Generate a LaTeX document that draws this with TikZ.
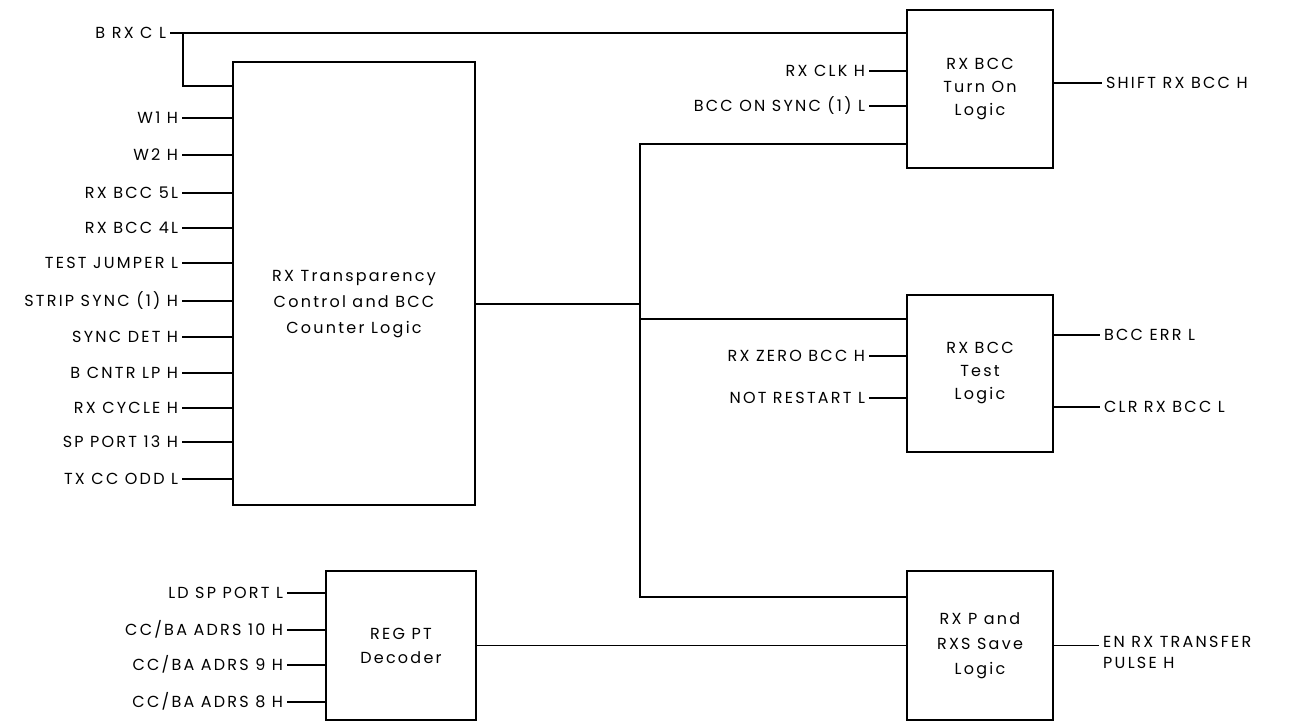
\documentclass[tikz,border=0pt]{standalone}
\usepackage{fontspec}
\setmainfont{Poppins}[LetterSpace=14]
\begin{document}
\begin{tikzpicture}[x=1pt,y=-1pt,
  blk/.style={draw, line width=2.6pt, inner sep=0pt, outer sep=0pt, align=center,
    font=\fontsize{16}{23}\selectfont},
  lbl/.style={inner sep=0pt, inner xsep=4pt, outer sep=0pt,
    font=\fontsize{16}{22}\selectfont, text height=11pt, text depth=0pt},
  inp/.style={lbl, anchor=east},
  outp/.style={lbl, anchor=west},
  wire/.style={line width=1.6pt}]
\useasboundingbox (0,0) rectangle (1296,721);
% boxes
\node[blk, minimum width=242pt, minimum height=443pt] (main) at (354,283.5) {};
\node[inner sep=0pt, align=center, font=\fontsize{16}{26}\selectfont] (mainT) at (354,304)
  {RX Transparency\\Control and BCC\\Counter Logic};
\node[blk, minimum width=146pt, minimum height=158pt] (on) at (980,89) {RX BCC\\Turn On\\Logic};
\node[blk, minimum width=146pt, minimum height=157pt] (test) at (980,373.5) {RX BCC\\Test\\Logic};
\node[blk, minimum width=146pt, minimum height=149pt, font=\fontsize{16}{25}\selectfont] (save) at (980,645.5) {RX P and\\RXS Save\\Logic};
\node[blk, minimum width=150pt, minimum height=149pt, font=\fontsize{16}{24}\selectfont] (reg) at (401,645.5) {REG PT\\Decoder};
% main inputs
\foreach \y/\t/\n in {118/W1 H/m1, 155/W2 H/m2, 193/RX BCC 5L/m3, 228/RX BCC 4L/m4,
  263/TEST JUMPER L/m5, 301/STRIP SYNC (1) H/m6, 337/SYNC DET H/m7, 373/B CNTR LP H/m8,
  408/RX CYCLE H/m9, 442/SP PORT 13 H/m10, 479/TX CC ODD L/m11}{
  \node[inp] (\n) at (182,\y) {\t};
  \draw[wire] (\n.east) -- (\n.east -| main.west);
}
% B RX C L
\node[inp] (brx) at (170,33) {B RX C L};
\draw[wire] (brx.east) -- (brx.east -| on.west);
\coordinate (brA) at (183,33);
\coordinate (brB) at (183,86);
\draw[wire] (brA) -- (brB) -- (brB -| main.west);
% turn on inputs
\node[inp] (clk) at (869,71) {RX CLK H};
\draw[wire] (clk.east) -- (clk.east -| on.west);
\node[inp] (bcon) at (869,106) {BCC ON SYNC (1) L};
\draw[wire] (bcon.east) -- (bcon.east -| on.west);
% junction
\coordinate (J) at (640,304);
\coordinate (Jt) at (640,144);
\coordinate (Jm) at (640,319);
\coordinate (Jb) at (640,597);
\draw[wire] (main.east |- J) -- (J);
\draw[wire] (Jt -| on.west) -- (Jt) -- (Jb) -- (Jb -| save.west);
\draw[wire] (Jm) -- (Jm -| test.west);
% test inputs
\node[inp] (zero) at (869,356) {RX ZERO BCC H};
\draw[wire] (zero.east) -- (zero.east -| test.west);
\node[inp] (nrst) at (869,398) {NOT RESTART L};
\draw[wire] (nrst.east) -- (nrst.east -| test.west);
% outputs
\node[outp] (shift) at (1102,83) {SHIFT RX BCC H};
\draw[wire] (shift.west -| on.east) -- (shift.west);
\node[outp] (err) at (1100,335) {BCC ERR L};
\draw[wire] (err.west -| test.east) -- (err.west);
\node[outp] (clr) at (1100,407) {CLR RX BCC L};
\draw[wire] (clr.west -| test.east) -- (clr.west);
\node[inner sep=0pt, inner xsep=4pt, anchor=west, align=left, font=\fontsize{16}{21}\selectfont] (enrx) at (1099,652) {EN RX TRANSFER\\PULSE H};
\draw[wire] (save.east) -- (save.east -| enrx.west);
% reg inputs
\foreach \y/\t/\n in {593/{LD SP PORT L}/r1, 630/{CC/BA ADRS 10 H}/r2, 665/{CC/BA ADRS 9 H}/r3, 702/{CC/BA ADRS 8 H}/r4}{
  \node[inp] (\n) at (287,\y) {\t};
  \draw[wire] (\n.east) -- (\n.east -| reg.west);
}
\draw[wire] (reg.east) -- (save.west);
\end{tikzpicture}
\end{document}
